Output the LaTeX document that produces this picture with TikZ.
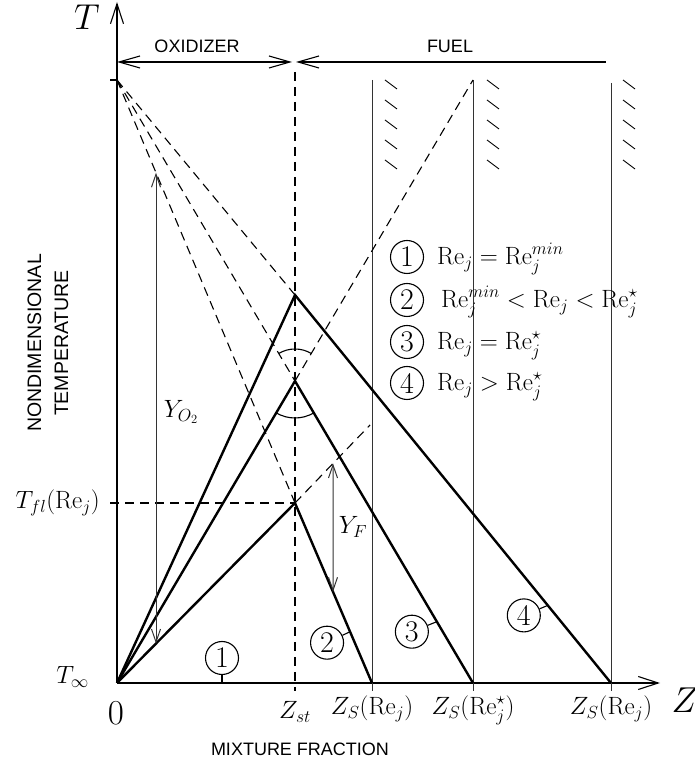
\RequirePackage{fix-cm}
\documentclass[tikz,border=0pt]{standalone}
\usepackage{fontspec}
\newfontfamily\hv{Liberation Sans}
\usetikzlibrary{arrows.meta,calc}
\tikzset{
  mybarb/.tip={Straight Barb[length=13pt,width=9pt]},
  longbarb/.tip={Straight Barb[length=21pt,width=12pt]},
  axisbarb/.tip={Straight Barb[length=20pt,width=13pt]},
}
\begin{document}
\begin{tikzpicture}[x=1pt,y=1pt,
  thickline/.style={line width=2.4pt, line join=miter},
  thinline/.style={line width=1.1pt},
  vline/.style={line width=1pt, black!80},
  dashline/.style={line width=1.1pt, dash pattern=on 9pt off 6pt},
  hatchline/.style={line width=0.9pt},
  circ/.style={circle, draw, line width=1.1pt, minimum size=33pt, inner sep=0pt, font=\fontsize{30}{34}\selectfont},
  mlabel/.style={font=\fontsize{25}{30}\selectfont, inner sep=0pt},
  slabel/.style={font=\hv\fontsize{18}{22}\selectfont, inner sep=0pt},
  biglabel/.style={font=\fontsize{36}{40}\selectfont, inner sep=0pt},
]
\useasboundingbox (0,0) rectangle (695,765);

% key points
\coordinate (O) at (117,82);
\coordinate (Ttip) at (117,763);
\coordinate (Ztip) at (660,82);
\coordinate (Ttop) at (117,685);
\coordinate (Ttick) at (110,685);
\coordinate (P4) at (295,470);
\coordinate (P3) at (295,384);
\coordinate (P2) at (295,262);
\coordinate (F2) at (372,82);
\coordinate (F3) at (473,82);
\coordinate (F4) at (611,82);
\coordinate (Zst) at (295,82);
\coordinate (ArL) at (117,703);
\coordinate (ArM) at (295,703);
\coordinate (ArR) at (606,703);
\coordinate (D3) at (473,685);
\coordinate (D2) at (370,340);
\coordinate (Tfltick) at (110,262);

% axes
\draw[thinline, -{axisbarb}] (O) -- (Ttip);
\draw[thinline, -{axisbarb}] (O) -- (Ztip);
\draw[thinline] (Ttick) -- (Ttop);

% oxidizer / fuel
\draw[thinline, {longbarb}-{longbarb}] (ArL) -- ($(ArM)+(-3,0)$);
\draw[thinline, {longbarb}-] ($(ArM)+(1,0)$) -- (ArR);
\node[slabel] (ox) at (197,719) {OXIDIZER};
\node[slabel] (fu) at (450,719) {FUEL};

% stoichiometric dashed line
\draw[dashline] ($(ArM)+(0,-10)$) -- (295,74);

% vertical lines and hatches
\draw[vline] (372,685) -- (372,74);
\draw[vline] (473,685) -- (473,74);
\draw[vline] (611,682) -- (611,74);
\foreach \x in {385,487,623}{
  \foreach \k in {0,...,4}{
    \draw[hatchline] (\x,{685-20*\k}) -- ++(12,-9);
  }
}

% dashed rays
\draw[dashline] (Ttop) -- (P4);
\draw[dashline] (Ttop) -- (P3);
\draw[dashline] (Ttop) -- (P2);
\draw[dashline] (P3) -- (D3);
\draw[dashline] (P2) -- (D2);
\draw[dashline] (Tfltick) -- (P2);

% temperature profiles
\draw[thickline] (O) -- (Zst);
\draw[thickline] (O) -- (P2) -- (F2);
\draw[thickline] (O) -- (P3) -- (F3);
\draw[thickline] (O) -- (P4) -- (F4);

% angle arcs
\draw[thinline] ($(P3)+(59.4:32pt)$) arc[start angle=59.4, end angle=120.6, radius=32pt];
\draw[thinline] ($(P3)+(239.4:37pt)$) arc[start angle=239.4, end angle=300.6, radius=37pt];

% Y_O2
\coordinate (yoT) at ($(Ttop)!0.2191!(P2)$);
\coordinate (yoB) at ($(O)!0.2191!(P2)$);
\draw[vline, {mybarb}-{mybarb}] (yoB) -- (yoT);
\node[mlabel] (yo) at (181,353) {$Y_{O_2}$};

% Y_F
\coordinate (yfT) at ($(P2)!0.5067!(D2)$);
\coordinate (yfB) at ($(P2)!0.4935!(F2)$);
\draw[vline, {mybarb}-{mybarb}] (yfB) -- (yfT);
\node[mlabel] (yf) at (353,238) {$Y_F$};

% curve labels
\coordinate (q1) at (222,82);
\node[circ] (c1) at (222,107) {1};
\draw[thinline] (c1) -- (q1);
\coordinate (q2) at ($(P2)!0.715!(F2)$);
\node[circ] (c2) at ($(q2)+(-23,-11)$) {2};
\draw[thinline] (c2) -- (q2);
\coordinate (q3) at ($(P3)!0.797!(F3)$);
\node[circ] (c3) at ($(q3)+(-25,-10)$) {3};
\draw[thinline] (c3) -- (q3);
\coordinate (q4) at ($(P4)!0.80!(F4)$);
\node[circ] (c4) at ($(q4)+(-24,-10)$) {4};
\draw[thinline] (c4) -- (q4);

% legend
\node[circ] (l1) at (407,508) {1};
\node[mlabel, anchor=base west] (t1) at (437,500) {$\mathrm{Re}_j=\mathrm{Re}_j^{min}$};
\node[circ] (l2) at (407,465) {2};
\node[mlabel, anchor=base west] (t2) at (441,457) {$\mathrm{Re}_j^{min}<\mathrm{Re}_j<\mathrm{Re}_j^{\star}$};
\node[circ] (l3) at (407,423) {3};
\node[mlabel, anchor=base west] (t3) at (437,415) {$\mathrm{Re}_j=\mathrm{Re}_j^{\star}$};
\node[circ] (l4) at (407,382) {4};
\node[mlabel, anchor=base west] (t4) at (437,374) {$\mathrm{Re}_j>\mathrm{Re}_j^{\star}$};

% axis labels
\node[biglabel] (Tl) at (87,748) {$T$};
\node[biglabel] (Zl) at (685,65) {$Z$};
\node[mlabel, anchor=east] (Tinf) at (89,88) {$T_\infty$};
\node[mlabel, anchor=east] (Tfl) at (100,262) {$T_{fl}(\mathrm{Re}_j)$};
\node[font=\fontsize{35}{40}\selectfont, inner sep=0pt] (zero) at (116,52) {$0$};
\node[mlabel, anchor=base] (zstl) at (295,46) {$Z_{st}$};
\node[mlabel, anchor=base] (zs1) at (372,50) {$Z_S(\mathrm{Re}_j)$};
\node[mlabel, anchor=base] (zs2) at (473,50) {$Z_S(\mathrm{Re}_j^{\star})$};
\node[mlabel, anchor=base] (zs3) at (611,50) {$Z_S(\mathrm{Re}_j)$};
\node[slabel] (mix) at (300,16) {MIXTURE FRACTION};
\node[font=\hv\fontsize{19.5}{27}\selectfont, inner sep=0pt, rotate=90, align=center] (ndt) at (48,422) {NONDIMENSIONAL\\TEMPERATURE};
\end{tikzpicture}
\end{document}
